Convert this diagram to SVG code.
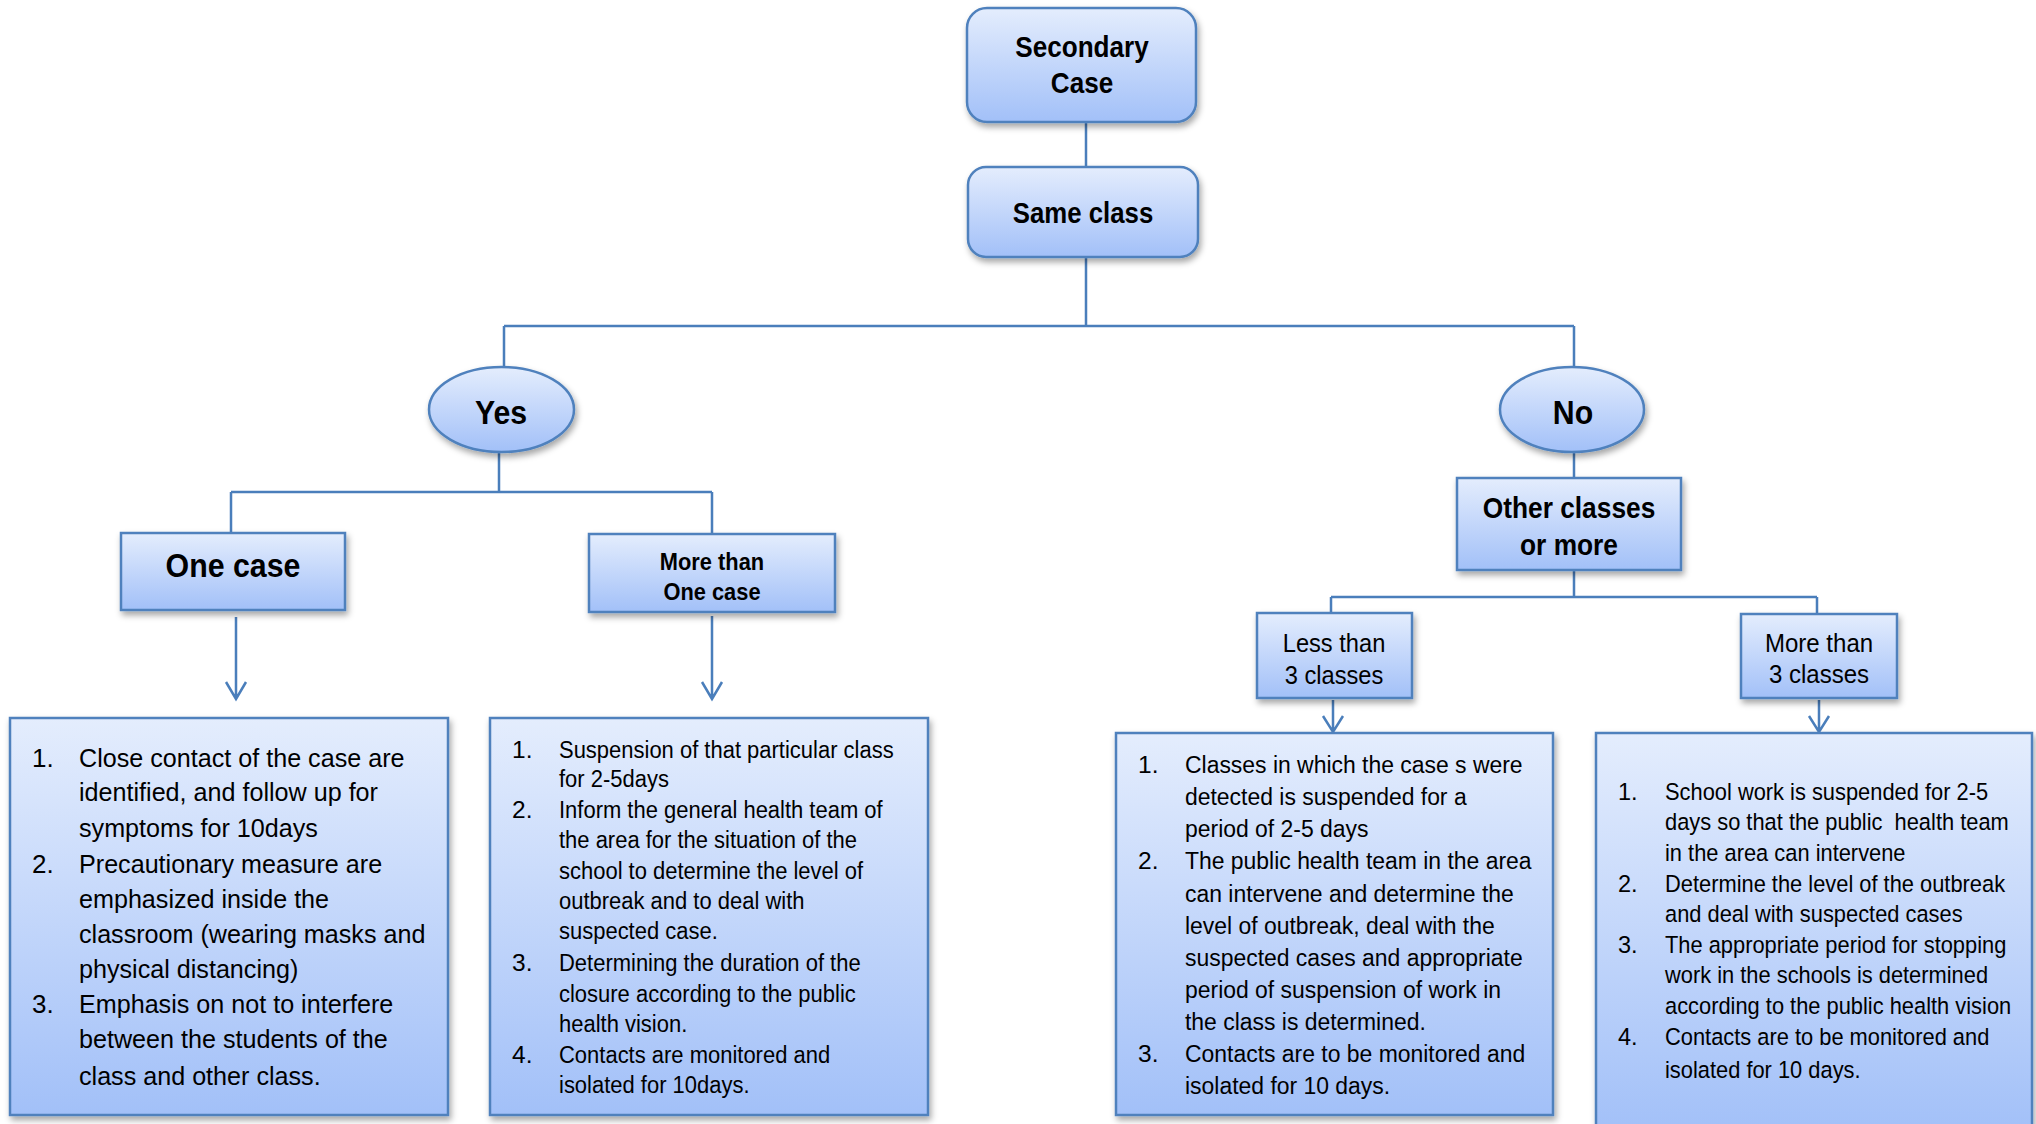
<svg xmlns="http://www.w3.org/2000/svg" width="2036" height="1124" viewBox="0 0 2036 1124">
<defs>
<linearGradient id="g" x1="0" y1="0" x2="0" y2="1">
<stop offset="0" stop-color="#E4EDFD"/>
<stop offset="1" stop-color="#A2C0F8"/>
</linearGradient>
<filter id="sh" x="-10%" y="-10%" width="120%" height="130%">
<feDropShadow dx="2" dy="4" stdDeviation="3" flood-color="#000" flood-opacity="0.35"/>
</filter>
</defs>
<style>
.n{fill:url(#g);stroke:#4F81BD;stroke-width:2.5;filter:url(#sh)}
.c{fill:none;stroke:#4A7EBB;stroke-width:2.5}
.t{font-family:"Liberation Sans",Arial,sans-serif;fill:#000}
.b{font-weight:bold;text-anchor:middle}
.r{text-anchor:middle}
</style>
<g id="connectors">
<path class="c" d="M1086 122V167"/>
<path class="c" d="M1086 257V326M504 326H1574M504 326V367M1574 326V367"/>
<path class="c" d="M499 452V492M231 492H712M231 492V533M712 492V534"/>
<path class="c" d="M1574 452V478"/>
<path class="c" d="M1574 570V597M1331 597H1817M1331 597V613M1817 597V614"/>
<path class="c" d="M236 617V699M226 682L236 699L246 682"/>
<path class="c" d="M712 616V699M702 682L712 699L722 682"/>
<path class="c" d="M1333 700V732M1323 716L1333 732L1343 716"/>
<path class="c" d="M1819 700V732M1809 716L1819 732L1829 716"/>
</g>
<g id="secondary-case">
<rect class="n" x="967" y="8" width="229" height="114" rx="20"/>
<g transform="translate(1082,0) scale(0.87,1)">
<text class="t b" x="0" y="57" font-size="30">Secondary</text>
<text class="t b" x="0" y="93" font-size="30">Case</text>
</g>
</g>
<g id="same-class">
<rect class="n" x="968" y="167" width="230" height="90" rx="18"/>
<text class="t b" transform="translate(1083,0) scale(0.86,1)" x="0" y="223" font-size="30">Same class</text>
</g>
<g id="yes">
<ellipse class="n" cx="501.5" cy="409.5" rx="72.5" ry="42.5"/>
<text class="t b" transform="translate(501,0) scale(0.89,1)" x="0" y="424" font-size="34">Yes</text>
</g>
<g id="no">
<ellipse class="n" cx="1572" cy="409.5" rx="72" ry="42.5"/>
<text class="t b" transform="translate(1573,0) scale(0.89,1)" x="0" y="424" font-size="34">No</text>
</g>
<g id="one-case">
<rect class="n" x="121" y="533" width="224" height="77"/>
<text class="t b" transform="translate(233,0) scale(0.92,1)" x="0" y="577" font-size="33">One case</text>
</g>
<g id="more-than-one-case">
<rect class="n" x="589" y="534" width="246" height="78"/>
<g transform="translate(712,0) scale(0.95,1)">
<text class="t b" x="0" y="570" font-size="23">More than</text>
<text class="t b" x="0" y="600" font-size="23">One case</text>
</g>
</g>
<g id="other-classes">
<rect class="n" x="1457" y="478" width="224" height="92"/>
<g transform="translate(1569,0) scale(0.877,1)">
<text class="t b" x="0" y="518" font-size="30">Other classes</text>
<text class="t b" x="0" y="555" font-size="30">or more</text>
</g>
</g>
<g id="less-than-3">
<rect class="n" x="1257" y="613" width="155" height="85"/>
<g transform="translate(1334,0) scale(0.91,1)">
<text class="t r" x="0" y="652" font-size="26">Less than</text>
<text class="t r" x="0" y="684" font-size="26">3 classes</text>
</g>
</g>
<g id="more-than-3">
<rect class="n" x="1741" y="614" width="156" height="84"/>
<g transform="translate(1819,0) scale(0.925,1)">
<text class="t r" x="0" y="652" font-size="26">More than</text>
<text class="t r" x="0" y="683" font-size="26">3 classes</text>
</g>
</g>
<g id="box-one-case">
<rect class="n" x="10" y="718" width="438" height="397"/>
<g class="t" font-size="26">
<text x="32" y="767">1.</text>
<text x="32" y="873">2.</text>
<text x="32" y="1013">3.</text>
<g transform="translate(79,0) scale(0.967,1)">
<text x="0" y="767">Close contact of the case are</text>
<text x="0" y="801">identified, and follow up for</text>
<text x="0" y="837">symptoms for 10days</text>
<text x="0" y="873">Precautionary measure are</text>
<text x="0" y="908">emphasized inside the</text>
<text x="0" y="943">classroom (wearing masks and</text>
<text x="0" y="978">physical distancing)</text>
<text x="0" y="1013">Emphasis on not to interfere</text>
<text x="0" y="1048">between the students of the</text>
<text x="0" y="1085">class and other class.</text>
</g>
</g>
</g>
<g id="box-more-than-one">
<rect class="n" x="490" y="718" width="438" height="397"/>
<g class="t" font-size="24.5">
<text x="512" y="758">1.</text>
<text x="512" y="818">2.</text>
<text x="512" y="971">3.</text>
<text x="512" y="1063">4.</text>
<g transform="translate(559,0) scale(0.897,1)">
<text x="0" y="758">Suspension of that particular class</text>
<text x="0" y="787">for 2-5days</text>
<text x="0" y="818">Inform the general health team of</text>
<text x="0" y="848">the area for the situation of the</text>
<text x="0" y="879">school to determine the level of</text>
<text x="0" y="909">outbreak and to deal with</text>
<text x="0" y="939">suspected case.</text>
<text x="0" y="971">Determining the duration of the</text>
<text x="0" y="1002">closure according to the public</text>
<text x="0" y="1032">health vision.</text>
<text x="0" y="1063">Contacts are monitored and</text>
<text x="0" y="1093">isolated for 10days.</text>
</g>
</g>
</g>
<g id="box-less-than-3">
<rect class="n" x="1116" y="733" width="437" height="382"/>
<g class="t" font-size="24.5">
<text x="1138" y="773">1.</text>
<text x="1138" y="869">2.</text>
<text x="1138" y="1062">3.</text>
<g transform="translate(1185,0) scale(0.936,1)">
<text x="0" y="773">Classes in which the case s were</text>
<text x="0" y="805">detected is suspended for a</text>
<text x="0" y="837">period of 2-5 days</text>
<text x="0" y="869">The public health team in the area</text>
<text x="0" y="902">can intervene and determine the</text>
<text x="0" y="934">level of outbreak, deal with the</text>
<text x="0" y="966">suspected cases and appropriate</text>
<text x="0" y="998">period of suspension of work in</text>
<text x="0" y="1030">the class is determined.</text>
<text x="0" y="1062">Contacts are to be monitored and</text>
<text x="0" y="1094">isolated for 10 days.</text>
</g>
</g>
</g>
<g id="box-more-than-3">
<rect class="n" x="1596" y="733" width="436" height="400"/>
<g class="t" font-size="23.5">
<text x="1618" y="800">1.</text>
<text x="1618" y="892">2.</text>
<text x="1618" y="953">3.</text>
<text x="1618" y="1045">4.</text>
<g transform="translate(1665,0) scale(0.93,1)">
<text x="0" y="800">School work is suspended for 2-5</text>
<text x="0" y="830" xml:space="preserve">days so that the public  health team</text>
<text x="0" y="861">in the area can intervene</text>
<text x="0" y="892">Determine the level of the outbreak</text>
<text x="0" y="922">and deal with suspected cases</text>
<text x="0" y="953">The appropriate period for stopping</text>
<text x="0" y="983">work in the schools is determined</text>
<text x="0" y="1014">according to the public health vision</text>
<text x="0" y="1045">Contacts are to be monitored and</text>
<text x="0" y="1078">isolated for 10 days.</text>
</g>
</g>
</g>
</svg>
